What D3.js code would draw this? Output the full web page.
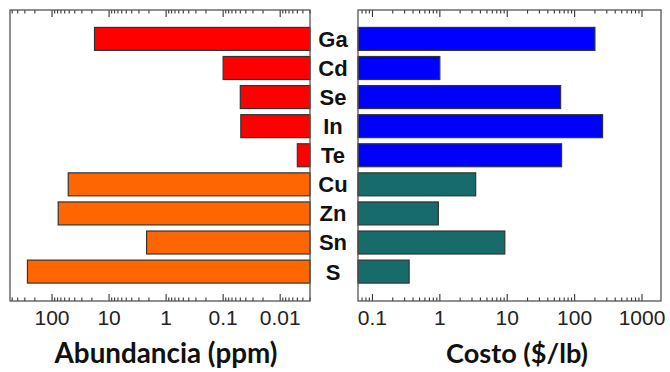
<!DOCTYPE html>
<html><head><meta charset="utf-8">
<script src="https://cdn.jsdelivr.net/npm/d3@7"></script>
<style>body{margin:0;background:#fff}svg{display:block}</style>
</head><body>
<svg id="c" width="670" height="372"></svg>
<script>
const elements = ["Ga","Cd","Se","In","Te","Cu","Zn","Sn","S"];
const abundance = [18, 0.1, 0.05, 0.049, 0.005, 52, 78, 2.2, 270];
const cost = [200, 1.0, 62, 260, 64, 3.4, 0.95, 9.2, 0.35];
const groupA = ["Ga","Cd","Se","In","Te"];
const leftTickValues = [100, 10, 1, 0.1, 0.01];
const leftTickLabels = ["100","10","1","0.1","0.01"];
const rightTickValues = [0.1, 1, 10, 100, 1000];
const rightTickLabels = ["0.1","1","10","100","1000"];
const leftColors = {a:"#ff0000", b:"#ff6600"};
const rightColors = {a:"#0000ff", b:"#176b6b"};

(function(){
const svg = d3.select("#c");
const yTop = 10, yBot = 301;
const y = d3.scaleBand().domain(elements).range([24.5, 286]).paddingInner(0.21).paddingOuter(0.1);

const xL = d3.scaleLog().domain([546, 0.003]).range([10, 310]);
const xR = d3.scaleLog().domain([0.061, 1913]).range([358, 661]);

function drawTicks(x, tickVals, tickLabels) {
  const r = x.range();
  const minors = x.ticks().filter(v => {
    const p = Math.log10(v); return Math.abs(p - Math.round(p)) > 1e-6;
  });
  const g = svg.append("g").attr("stroke", "#333").attr("stroke-width", 1.1);
  minors.forEach(v => {
    const px = x(v);
    g.append("line").attr("x1", px).attr("x2", px).attr("y1", yTop).attr("y2", yTop + 3.5);
    g.append("line").attr("x1", px).attr("x2", px).attr("y1", yBot).attr("y2", yBot - 3.5);
  });
  tickVals.forEach(v => {
    const px = x(v);
    g.append("line").attr("x1", px).attr("x2", px).attr("y1", yTop).attr("y2", yTop + 7);
    g.append("line").attr("x1", px).attr("x2", px).attr("y1", yBot).attr("y2", yBot - 7);
  });
  svg.append("g").selectAll("text").data(tickVals).join("text")
    .attr("x", d => x(d)).attr("y", 324.5)
    .attr("text-anchor", "middle")
    .attr("font-family", "Liberation Sans, Arial, sans-serif")
    .attr("font-size", 21).attr("fill", "#222")
    .text((d, i) => tickLabels[i]);
  svg.append("rect").attr("x", r[0]).attr("y", yTop).attr("width", r[1] - r[0]).attr("height", yBot - yTop)
    .attr("fill", "none").attr("stroke", "#555").attr("stroke-width", 1.3);
}

svg.append("g").selectAll("rect").data(elements).join("rect")
  .attr("x", (d, i) => xL(abundance[i]))
  .attr("y", d => y(d))
  .attr("width", (d, i) => xL.range()[1] - xL(abundance[i]))
  .attr("height", y.bandwidth())
  .attr("fill", d => groupA.includes(d) ? leftColors.a : leftColors.b)
  .attr("stroke", "#333").attr("stroke-width", 1.2);

svg.append("g").selectAll("rect").data(elements).join("rect")
  .attr("x", xR.range()[0])
  .attr("y", d => y(d))
  .attr("width", (d, i) => xR(cost[i]) - xR.range()[0])
  .attr("height", y.bandwidth())
  .attr("fill", d => groupA.includes(d) ? rightColors.a : rightColors.b)
  .attr("stroke", "#333").attr("stroke-width", 1.2);

drawTicks(xL, leftTickValues, leftTickLabels);
drawTicks(xR, rightTickValues, rightTickLabels);

svg.append("g").selectAll("text").data(elements).join("text")
  .attr("x", 333).attr("y", d => y(d) + y.bandwidth() / 2)
  .attr("dy", "0.36em")
  .attr("text-anchor", "middle")
  .attr("font-family", "Liberation Sans, Arial, sans-serif")
  .attr("font-weight", "bold").attr("font-size", 22).attr("fill", "#111")
  .text(d => d);

function title(txt, cx, w) {
  const t = svg.append("text").attr("x", cx).attr("y", 363).attr("text-anchor", "middle")
    .attr("font-family", "Lato, 'Open Sans', sans-serif").attr("font-weight", "bold")
    .attr("font-size", 22).attr("fill", "#111").text(txt);
  const L = t.node().getComputedTextLength();
  t.attr("font-size", 22 * w / L);
}
title("Abundancia (ppm)", 166, 223);
title("Costo ($/lb)", 517, 142);
})();
</script>
</body></html>
